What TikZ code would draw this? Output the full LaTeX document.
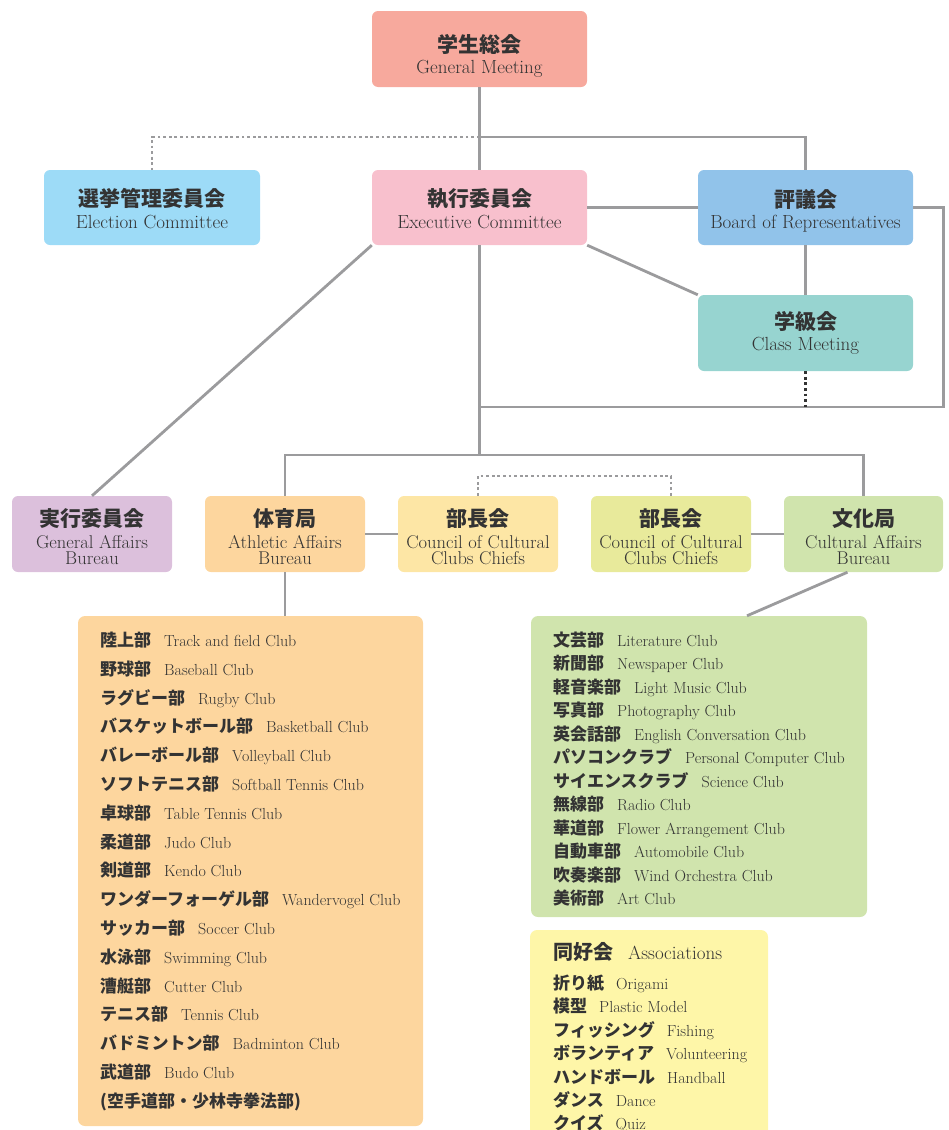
\documentclass[tikz,border=0pt]{standalone}
\usepackage{fontspec}
\usepackage{tikz}
\usetikzlibrary{calc}
\newfontfamily\jp{Noto Sans CJK JP}
\definecolor{lgray}{HTML}{9B9B9D}
\definecolor{txt}{HTML}{333333}
\definecolor{cGM}{HTML}{F7A99D}
\definecolor{cElec}{HTML}{9DDBF7}
\definecolor{cExec}{HTML}{F8C0CD}
\definecolor{cBoard}{HTML}{91C3EA}
\definecolor{cClass}{HTML}{97D4D0}
\definecolor{cGA}{HTML}{DCC0DC}
\definecolor{cAth}{HTML}{FDD69E}
\definecolor{cCC}{HTML}{FDE6A5}
\definecolor{cCCb}{HTML}{E8EA9B}
\definecolor{cCult}{HTML}{D0E4AD}
\definecolor{cAssoc}{HTML}{FEF6A8}
\newcommand{\jtitle}[1]{{\jp\bfseries\fontsize{21}{22}\selectfont #1}}
\newcommand{\jitem}[1]{{\jp\bfseries\fontsize{17}{17}\selectfont #1}}

\begin{document}
\begin{tikzpicture}[x=1pt,y=-1pt]
  \tikzset{box style/.style = {rounded corners=6pt, inner sep=0pt, text=txt, align=center,
      minimum width=215pt, minimum height=76pt, font=\fontsize{19}{16}\selectfont},
    small box/.style = {box style, minimum width=160pt, font=\fontsize{18.5}{16}\selectfont},
    list box/.style = {rounded corners=7pt, inner sep=0pt},
    link/.style = {draw=lgray, line width=2.8pt},
    dots/.style = {draw=lgray, line width=2.8pt, dash pattern=on 2.8pt off 2.8pt},
    list style/.style = {anchor=base west, inner sep=0pt, text=txt, font=\fontsize{16}{16}\selectfont}}
  \useasboundingbox (0,0) rectangle (948,1130);
  \clip (0,0) rectangle (948,1130);

  \node[box style, fill=cGM] (gm) at (479.5,49) {\jtitle{\rule{0pt}{31pt}学生総会}\\[5pt]General Meeting};
  \node[box style, fill=cElec, minimum width=216pt, minimum height=75pt] (elec) at (152,207.5) {\jtitle{\rule{0pt}{21pt}選挙管理委員会}\\[6pt]Election Committee};
  \node[box style, fill=cExec, minimum height=75pt] (exec) at (479.5,207.5) {\jtitle{\rule{0pt}{21pt}執行委員会}\\[6pt]Executive Committee};
  \node[box style, fill=cBoard, minimum height=75pt] (board) at (805.5,207.5) {\jtitle{\rule{0pt}{24pt}評議会}\\[5pt]Board of Representatives};
  \node[box style, fill=cClass] (class) at (805.5,333) {\jtitle{学級会}\\[5pt]Class Meeting};

  \node[small box, fill=cGA] (ga) at (92,534) {\jtitle{\rule{0pt}{24pt}実行委員会}\\[6pt]General Affairs\\Bureau};
  \node[small box, fill=cAth] (ath) at (285,534) {\jtitle{\rule{0pt}{24pt}体育局}\\[6pt]Athletic Affairs\\Bureau};
  \node[small box, fill=cCC] (cc1) at (478,534) {\jtitle{\rule{0pt}{24pt}部長会}\\[6pt]Council of Cultural\\Clubs Chiefs};
  \node[small box, fill=cCCb] (cc2) at (671,534) {\jtitle{\rule{0pt}{24pt}部長会}\\[6pt]Council of Cultural\\Clubs Chiefs};
  \node[small box, fill=cCult, minimum width=159pt] (cult) at (863.5,534) {\jtitle{\rule{0pt}{24pt}文化局}\\[6pt]Cultural Affairs\\Bureau};

  \node[list box, fill=cAth, minimum width=345pt, minimum height=510pt] (sports) at (250.5,871) {};
  \node[list box, fill=cCult, minimum width=336pt, minimum height=301pt] (culture) at (699,766.5) {};
  \node[list box, fill=cAssoc, minimum width=238pt, minimum height=210pt] (assoc) at (649,1035) {};

  \coordinate (top) at (479.5,137);
  \coordinate (mid) at (479.5,407);
  \coordinate (low) at (479.5,455);
  \draw[link] (gm) -- (exec);
  \draw[link] (top) -| (board);
  \draw[dots] (top) -| (elec);
  \draw[link] (exec) -- (board);
  \draw[link] (board.east) -- ++(30,0) |- (mid);
  \draw[link] (board) -- (class);
  \draw[link] (exec.south east) -- (class.north west);
  \draw[dots, draw=black!80] (class) -- (class.south |- mid);
  \draw[link] (exec) -- (low);
  \draw[link] (exec.south west) -- (ga.north);
  \draw[link] (ath) |- (low) -| (cult);
  \draw[dots] (cc1) -- ++(0,-58) -| (cc2);
  \draw[link] (ath) -- (cc1);
  \draw[link] (cc2) -- (cult);
  \draw[link] (ath.south) -- (ath.south |- sports.north);
  \draw[link] ([xshift=-16pt]cult.south) -- ([xshift=48pt]culture.north);

  \foreach \ja/\en [count=\i from 0] in {陸上部/Track and field Club, 野球部/Baseball Club,
      ラグビー部/Rugby Club, バスケットボール部/Basketball Club, バレーボール部/Volleyball Club,
      ソフトテニス部/Softball Tennis Club, 卓球部/Table Tennis Club, 柔道部/Judo Club,
      剣道部/Kendo Club, ワンダーフォーゲル部/Wandervogel Club, サッカー部/Soccer Club,
      水泳部/Swimming Club, 漕艇部/Cutter Club, テニス部/Tennis Club,
      バドミントン部/Badminton Club, 武道部/Budo Club}
    \node[list style] (sp\i) at (100,646.5+28.8*\i) {\jitem{\ja}\hspace{13pt}\en};
  \node[list style] (sp16) at (100,1107.5) {\jitem{(空手道部・少林寺拳法部)}};

  \foreach \ja/\en [count=\i from 0] in {文芸部/Literature Club, 新聞部/Newspaper Club,
      軽音楽部/Light Music Club, 写真部/Photography Club, 英会話部/English Conversation Club,
      パソコンクラブ/Personal Computer Club, サイエンスクラブ/Science Club, 無線部/Radio Club,
      華道部/Flower Arrangement Club, 自動車部/Automobile Club, 吹奏楽部/Wind Orchestra Club,
      美術部/Art Club}
    \node[list style] (cu\i) at (553,646.5+23.45*\i) {\jitem{\ja}\hspace{13pt}\en};

  \node[list style] (ashead) at (553,959) {{\jp\bfseries\fontsize{20}{20}\selectfont 同好会}\hspace{15pt}{\fontsize{19}{19}\selectfont Associations}};
  \foreach \ja/\en [count=\i from 0] in {折り紙/Origami, 模型/Plastic Model,
      フィッシング/Fishing, ボランティア/Volunteering, ハンドボール/Handball,
      ダンス/Dance, クイズ/Quiz}
    \node[list style] (as\i) at (553,989.5+23.4*\i) {\jitem{\ja}\hspace{12pt}\en};
\end{tikzpicture}
\end{document}
